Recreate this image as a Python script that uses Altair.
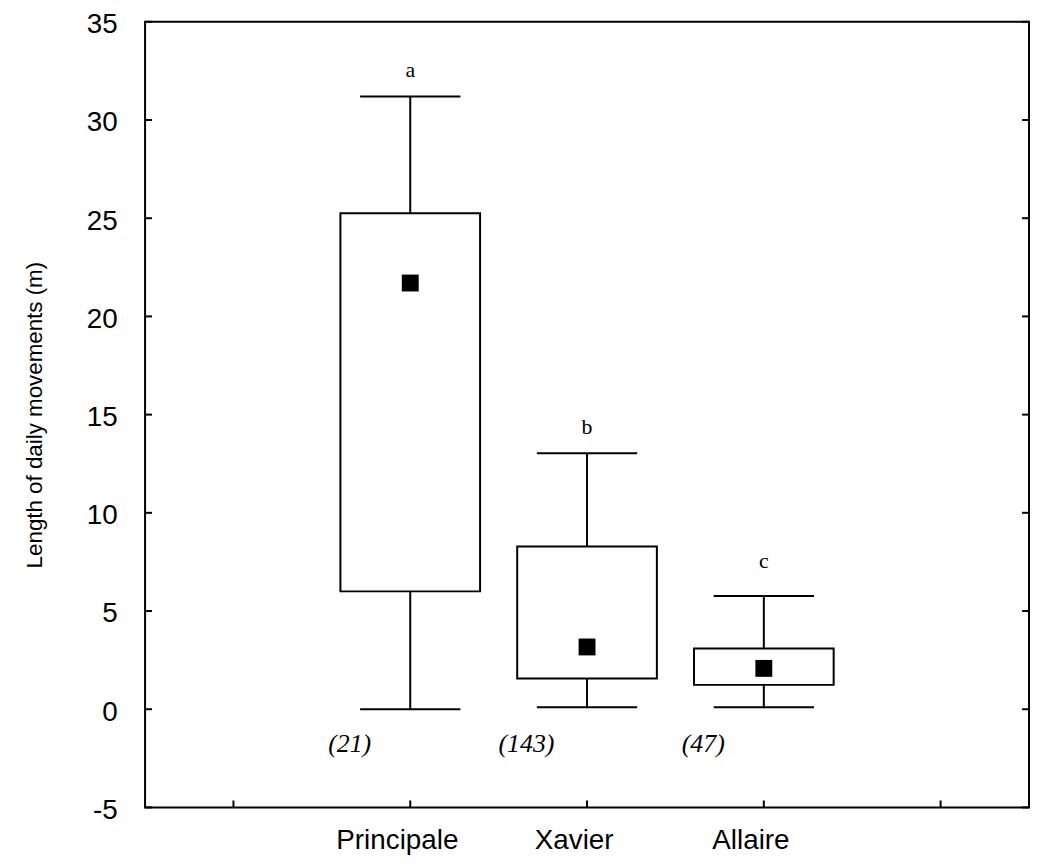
import altair as alt
import pandas as pd

# ---- data ----
slots = ["_l", "Principale", "Xavier", "Allaire", "_r"]
sites = ["Principale", "Xavier", "Allaire"]
whisker_low = [0.0, 0.1, 0.1]
q1 = [6.0, 1.56, 1.24]
q3 = [25.25, 8.28, 3.09]
whisker_high = [31.2, 13.03, 5.76]
means = [21.7, 3.17, 2.08]
letters = ["a", "b", "c"]
letter_y = [32.2, 14.0, 7.2]
n_labels = ["(21)", "(143)", "(47)"]
n_y = [-1.76, -1.76, -1.76]
y_ticks = [-5, 0, 5, 10, 15, 20, 25, 30, 35]

W, H = 890, 791

df = pd.DataFrame({
    "site": sites, "low": whisker_low, "q1": q1, "q3": q3, "high": whisker_high,
    "mean": means, "letter": letters, "ly": letter_y, "n": n_labels, "ny": n_y,
})
df_ticks = pd.DataFrame({"v": y_ticks})
df_slots = pd.DataFrame({"site": slots})

yscale = alt.Scale(domain=[-5, 35], nice=False, zero=False)
xscale = alt.Scale(domain=slots, paddingInner=0, paddingOuter=0)

xaxis = alt.Axis(
    title=None, labelExpr="indexof(datum.value, '_') == 0 ? '' : datum.value",
    labelFontSize=28, labelFont="Liberation Sans", labelColor="black",
    labelPadding=19, labelAngle=0, labelOffset=-13,
    domain=False, ticks=False, grid=False,
)
yaxis = alt.Axis(
    title="Length of daily movements (m)", values=y_ticks,
    labelExpr="datum.value + ''",
    labelFontSize=28, labelFont="Liberation Sans", labelColor="black",
    labelPadding=28, labelOffset=3, domain=False, ticks=False, grid=False,
    titleFontSize=22.5, titleFont="Liberation Sans", titleFontWeight="normal",
    titleColor="black", titlePadding=40,
)


def X():
    return alt.X("site:N", scale=xscale, axis=xaxis, sort=slots)


def Y(field):
    return alt.Y(field, scale=yscale, axis=yaxis)


base = alt.Chart(df)

box = base.mark_bar(width=alt.RelativeBandSize(0.79), fill="white",
                    stroke="black", strokeWidth=2).encode(
    x=X(), y=Y("q1:Q"), y2="q3:Q")

wl = base.mark_rule(color="black", strokeWidth=2).encode(
    x=X(), y=Y("low:Q"), y2="q1:Q")
wh = base.mark_rule(color="black", strokeWidth=2).encode(
    x=X(), y=Y("q3:Q"), y2="high:Q")

cap_lo = base.mark_tick(color="black", thickness=2, size=101, opacity=1).encode(
    x=X(), y=Y("low:Q"))
cap_hi = base.mark_tick(color="black", thickness=2, size=101, opacity=1).encode(
    x=X(), y=Y("high:Q"))

mean_pt = base.mark_square(size=289, color="black", opacity=1, filled=True).encode(
    x=X(), y=Y("mean:Q"))

letter_txt = base.mark_text(font="Liberation Serif", fontSize=22, color="black",
                            baseline="alphabetic").encode(
    x=X(), y=Y("ly:Q"), text="letter:N")

n_txt = base.mark_text(font="Liberation Serif", fontSize=26, fontStyle="italic",
                       color="black", baseline="middle", dx=-61).encode(
    x=X(), y=Y("ny:Q"), text="n:N")

tick_left = alt.Chart(df_ticks).mark_rule(color="black", strokeWidth=2).encode(
    y=Y("v:Q"), x=alt.value(0), x2=alt.value(7))
tick_right = alt.Chart(df_ticks).mark_rule(color="black", strokeWidth=2).encode(
    y=Y("v:Q"), x=alt.value(W - 7), x2=alt.value(W))
tick_bottom = alt.Chart(df_slots).mark_rule(color="black", strokeWidth=2).encode(
    x=X(), y=alt.value(H), y2=alt.value(H - 7))

chart = alt.layer(
    box, wl, wh, cap_lo, cap_hi, mean_pt, letter_txt, n_txt,
    tick_left, tick_right, tick_bottom,
).properties(
    width=W, height=H,
    autosize=alt.AutoSizeParams(type="none"),
    padding={"left": 138, "top": 11, "right": 2, "bottom": 45},
).configure(
    background="white",
).configure_view(
    stroke="black", strokeWidth=2, fill="white",
)

chart.save("out.html", embed_options={"renderer": "svg", "actions": False})
